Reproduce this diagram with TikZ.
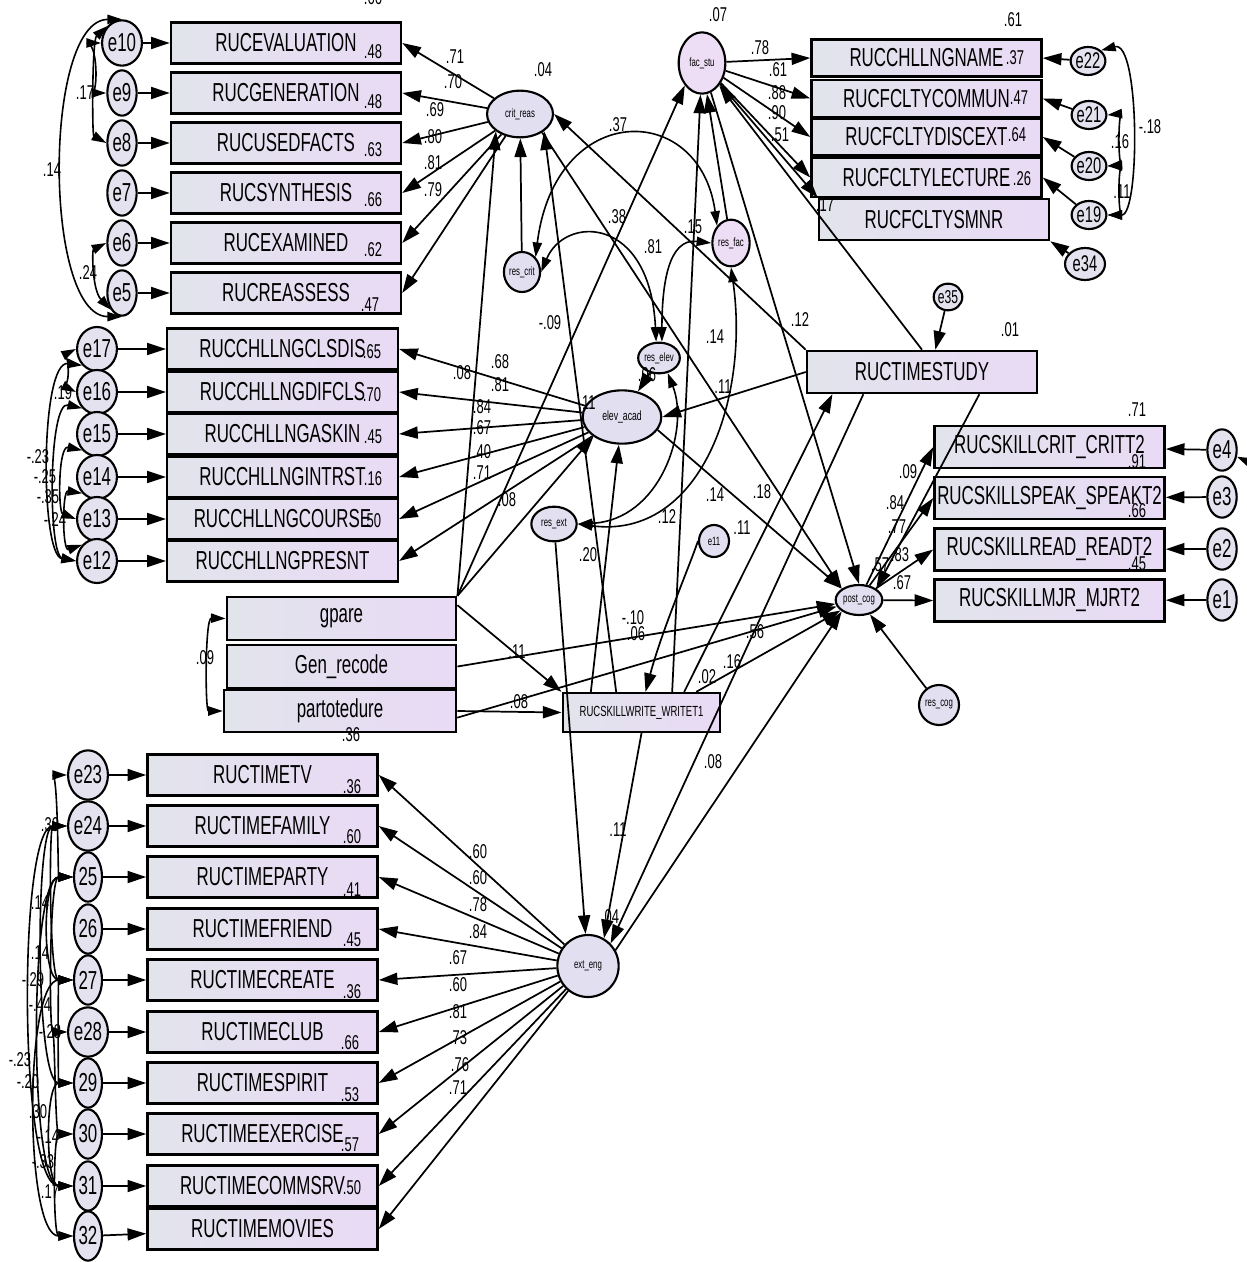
\documentclass[tikz,border=0pt]{standalone}
\usepackage{fontspec}
\setmainfont{Liberation Sans}[FakeStretch=0.65]
\usetikzlibrary{shapes.geometric,arrows.meta}
\definecolor{boxl}{RGB}{226,228,236}
\definecolor{boxr}{RGB}{233,218,245}
\definecolor{errfill}{RGB}{228,226,238}
\definecolor{latfill}{RGB}{226,224,240}
\definecolor{resfill}{RGB}{238,222,245}

\begin{document}
\begin{tikzpicture}[x=0.75pt,y=0.75pt,yscale=-1,
  obs/.style={draw,line width=1.9pt,left color=boxl,right color=boxr,minimum width=172.5pt,minimum height=30.75pt,inner sep=0pt,font=\fontsize{19.5}{19.5}\selectfont},
  err/.style={ellipse,draw,line width=1.6pt,fill=errfill,minimum width=22pt,minimum height=34pt,inner sep=0pt,font=\fontsize{19.5}{19.5}\selectfont},
  lat/.style={ellipse,draw,line width=1.6pt,fill=latfill,inner sep=0pt,font=\fontsize{9}{9}\selectfont},
  val/.style={inner sep=0pt,font=\fontsize{15}{15}\selectfont},
  pth/.style={-{Triangle[length=14pt,width=9pt]},line width=1.3pt},
  cov/.style={{Triangle[length=11pt,width=7pt]}-{Triangle[length=11pt,width=7pt]},line width=1.2pt}]
\useasboundingbox (0,0) rectangle (1246,1262);
\fill[white] (0,0) rectangle (1246,1262);

%Errors: crit_reas indicators
\node[err] (e10) at (122,43) {e10};
\node[err] (e9) at (122,93) {e9};
\node[err] (e8) at (122,143) {e8};
\node[err] (e7) at (122,193) {e7};
\node[err] (e6) at (122,243) {e6};
\node[err] (e5) at (122,293) {e5};
%Boxes: crit_reas indicators
\node[obs] (eval) at (286,43) {RUCEVALUATION};
\node[obs] (gener) at (286,93) {RUCGENERATION};
\node[obs] (usedf) at (286,143) {RUCUSEDFACTS};
\node[obs] (synth) at (286,193) {RUCSYNTHESIS};
\node[obs] (exam) at (286,243) {RUCEXAMINED};
\node[obs] (reass) at (286,293) {RUCREASSESS};

%Errors: elev_acad indicators
\node[err,minimum width=21pt,minimum height=33pt] (e17) at (97,349) {e17};
\node[err,minimum width=21pt,minimum height=33pt] (e16) at (97,392) {e16};
\node[err,minimum width=21pt,minimum height=33pt] (e15) at (97,434) {e15};
\node[err,minimum width=21pt,minimum height=33pt] (e14) at (97,477) {e14};
\node[err,minimum width=21pt,minimum height=33pt] (e13) at (97,519) {e13};
\node[err,minimum width=21pt,minimum height=33pt] (e12) at (97,561) {e12};
%Boxes: elev_acad indicators
\node[obs,minimum width=173pt] (clsdis) at (282.5,349) {RUCCHLLNGCLSDIS};
\node[obs,minimum width=173pt] (difcls) at (282.5,392) {RUCCHLLNGDIFCLS};
\node[obs,minimum width=173pt] (askin) at (282.5,434) {RUCCHLLNGASKIN};
\node[obs,minimum width=173pt] (intrst) at (282.5,477) {RUCCHLLNGINTRST};
\node[obs,minimum width=173pt] (course) at (282.5,519) {RUCCHLLNGCOURSE};
\node[obs,minimum width=173pt] (presnt) at (282.5,561) {RUCCHLLNGPRESNT};

%Exogenous boxes
\node[obs,minimum width=172pt,minimum height=32pt] (gpare) at (341.5,618.5) {gpare};
\node[obs,minimum width=172pt,minimum height=32pt] (genrec) at (341.5,666.5) {Gen\_recode};
\node[obs,minimum width=174pt,minimum height=31.5pt] (partot) at (340,711) {partotedure};
\node[obs,minimum width=118pt,minimum height=29pt,font=\fontsize{11}{11}\selectfont] (write) at (641.5,712.5) {RUCSKILLWRITE\_WRITET1};

%Errors: ext_eng indicators
\node[err,minimum width=21pt,minimum height=37pt] (e23) at (88,775) {e23};
\node[err,minimum width=21pt,minimum height=37pt] (e24) at (88,826) {e24};
\node[err,minimum width=21pt,minimum height=37pt] (e25) at (88,877) {25};
\node[err,minimum width=21pt,minimum height=37pt] (e26) at (88,929) {26};
\node[err,minimum width=21pt,minimum height=37pt] (e27) at (88,980) {27};
\node[err,minimum width=21pt,minimum height=37pt] (e28) at (88,1032) {e28};
\node[err,minimum width=21pt,minimum height=37pt] (e29) at (88,1083) {29};
\node[err,minimum width=21pt,minimum height=37pt] (e30) at (88,1134) {30};
\node[err,minimum width=21pt,minimum height=37pt] (e31) at (88,1186) {31};
\node[err,minimum width=21pt,minimum height=37pt] (e32) at (88,1236) {32};
%Boxes: ext_eng indicators
\node[obs] (tv) at (262.5,775) {RUCTIMETV};
\node[obs] (family) at (262.5,826) {RUCTIMEFAMILY};
\node[obs] (party) at (262.5,877) {RUCTIMEPARTY};
\node[obs] (friend) at (262.5,929) {RUCTIMEFRIEND};
\node[obs] (create) at (262.5,980) {RUCTIMECREATE};
\node[obs] (club) at (262.5,1032) {RUCTIMECLUB};
\node[obs] (spirit) at (262.5,1083) {RUCTIMESPIRIT};
\node[obs] (exer) at (262.5,1134) {RUCTIMEEXERCISE};
\node[obs] (comm) at (262.5,1186) {RUCTIMECOMMSRV};
\node[obs] (movies) at (262.5,1229) {RUCTIMEMOVIES};

%Boxes: fac_stu indicators
\node[obs,minimum height=28pt] (name) at (926.5,58) {RUCCHLLNGNAME};
\node[obs,minimum height=28pt] (commun) at (926.5,98.5) {RUCFCLTYCOMMUN};
\node[obs,minimum height=28pt] (discext) at (926.5,137) {RUCFCLTYDISCEXT};
\node[obs,minimum height=29pt] (lecture) at (926.5,177.5) {RUCFCLTYLECTURE};
\node[obs] (smnr) at (934,219.5) {RUCFCLTYSMNR};
%Errors: fac_stu indicators
\node[err,minimum width=19pt,minimum height=21pt,font=\fontsize{17}{17}\selectfont] (e22) at (1088,61) {e22};
\node[err,minimum width=19pt,minimum height=21pt,font=\fontsize{17}{17}\selectfont] (e21) at (1089,115) {e21};
\node[err,minimum width=19pt,minimum height=21pt,font=\fontsize{17}{17}\selectfont] (e20) at (1089,166) {e20};
\node[err,minimum width=19pt,minimum height=21pt,font=\fontsize{17}{17}\selectfont] (e19) at (1089,215) {e19};
\node[err,minimum width=30pt,minimum height=24pt,font=\fontsize{17}{17}\selectfont] (e34) at (1085,264) {e34};

%Time study
\node[obs,minimum height=31.5pt] (study) at (922,372) {RUCTIMESTUDY};
\node[err,minimum width=17pt,minimum height=20pt,font=\fontsize{14}{14}\selectfont] (e35) at (948,297) {e35};

%Boxes: post_cog indicators
\node[obs,minimum height=31.5pt] (critt) at (1049.5,447) {RUCSKILLCRIT\_CRITT2};
\node[obs,minimum height=31.5pt] (speak) at (1049.5,498) {RUCSKILLSPEAK\_SPEAKT2};
\node[obs,minimum height=31.5pt] (read) at (1049.5,549.5) {RUCSKILLREAD\_READT2};
\node[obs,minimum height=31.5pt] (mjr) at (1049.5,600.5) {RUCSKILLMJR\_MJRT2};
\node[err,minimum width=22pt,minimum height=31pt] (e4) at (1222,450) {e4};
\node[err,minimum width=22pt,minimum height=31pt] (e3) at (1222,497) {e3};
\node[err,minimum width=22pt,minimum height=31pt] (e2) at (1222,549) {e2};
\node[err,minimum width=22pt,minimum height=31pt] (e1) at (1222,600) {e1};
\coordinate (offe) at (1262,468);

%Latent variables and residuals
\node[lat,minimum width=49.5pt,minimum height=35pt] (crit) at (520,114) {crit\_reas};
\node[lat,minimum width=35pt,minimum height=46pt,fill=resfill] (fac) at (702,63) {fac\_stu};
\node[lat,minimum width=59pt,minimum height=40pt,font=\fontsize{10}{10}\selectfont] (elev) at (622,417) {elev\_acad};
\node[lat,minimum width=46pt,minimum height=46.5pt] (ext) at (588,966) {ext\_eng};
\node[lat,minimum width=35pt,minimum height=22.5pt] (post) at (859,600) {post\_cog};
\node[lat,minimum width=25.5pt,minimum height=30pt] (rcrit) at (522,272) {res\_crit};
\node[lat,minimum width=28pt,minimum height=35pt,fill=resfill] (rfac) at (731,243) {res\_fac};
\node[lat,minimum width=31pt,minimum height=23pt] (relev) at (659,358) {res\_elev};
\node[lat,minimum width=34pt,minimum height=26pt] (rext) at (554,524) {res\_ext};
\node[lat,minimum width=22.5pt,minimum height=24pt] (e11) at (714,541) {e11};
\node[lat,minimum width=30pt,minimum height=30pt] (rcog) at (939,705) {res\_cog};

%Loadings
\draw[pth] (crit) -- (eval.east);
\draw[pth] (crit) -- (gener.east);
\draw[pth] (crit) -- (usedf.east);
\draw[pth] (crit) -- (synth.east);
\draw[pth] (crit) -- (exam.east);
\draw[pth] (crit) -- (reass.east);
\draw[pth] (elev) -- (clsdis.east);
\draw[pth] (elev) -- (difcls.east);
\draw[pth] (elev) -- (askin.east);
\draw[pth] (elev) -- (intrst.east);
\draw[pth] (elev) -- (course.east);
\draw[pth] (elev) -- (presnt.east);
\draw[pth] (ext) -- (tv.east);
\draw[pth] (ext) -- (family.east);
\draw[pth] (ext) -- (party.east);
\draw[pth] (ext) -- (friend.east);
\draw[pth] (ext) -- (create.east);
\draw[pth] (ext) -- (club.east);
\draw[pth] (ext) -- (spirit.east);
\draw[pth] (ext) -- (exer.east);
\draw[pth] (ext) -- (comm.east);
\draw[pth] (ext) -- (movies.east);
\draw[pth] (fac) -- (name.west);
\draw[pth] (fac) -- (commun.west);
\draw[pth] (fac) -- (discext.west);
\draw[pth] (fac) -- (lecture.west);
\draw[pth] (fac) -- (smnr.north west);
\draw[pth] (post) -- (critt.west);
\draw[pth] (post) -- (speak.west);
\draw[pth] (post) -- (read.west);
\draw[pth] (post) -- (mjr.west);

%Error arrows
\draw[pth] (e10) -- (eval);
\draw[pth] (e9) -- (gener);
\draw[pth] (e8) -- (usedf);
\draw[pth] (e7) -- (synth);
\draw[pth] (e6) -- (exam);
\draw[pth] (e5) -- (reass);
\draw[pth] (e17) -- (clsdis);
\draw[pth] (e16) -- (difcls);
\draw[pth] (e15) -- (askin);
\draw[pth] (e14) -- (intrst);
\draw[pth] (e13) -- (course);
\draw[pth] (e12) -- (presnt);
\draw[pth] (e23) -- (tv);
\draw[pth] (e24) -- (family);
\draw[pth] (e25) -- (party);
\draw[pth] (e26) -- (friend);
\draw[pth] (e27) -- (create);
\draw[pth] (e28) -- (club);
\draw[pth] (e29) -- (spirit);
\draw[pth] (e30) -- (exer);
\draw[pth] (e31) -- (comm);
\draw[pth] (e32) -- (movies);
\draw[pth] (e22) -- (name.east);
\draw[pth] (e21) -- (commun.east);
\draw[pth] (e20) -- (discext.east);
\draw[pth] (e19) -- (lecture.east);
\draw[pth] (e34) -- (smnr.south east);
\draw[pth] (e4) -- (critt);
\draw[pth] (e3) -- (speak);
\draw[pth] (e2) -- (read);
\draw[pth] (e1) -- (mjr);
\draw[pth] (offe) -- (e4);
\draw[pth] (e35) -- ([xshift=10pt]study.north);

%Residuals
\draw[pth] (rcrit) -- (crit);
\draw[pth] (rfac) -- (fac);
\draw[pth] (relev) -- (elev);
\draw[pth] (rext) -- (ext);
\draw[pth] (rcog) -- (post);
\draw[pth] (e11.west) .. controls (690,565) and (662,630) .. ([xshift=3pt]write.north);

%Structural paths
\draw[pth] (gpare.north east) -- (crit.south west);
\draw[pth] (gpare.north east) -- (fac.south west);
\draw[pth] (gpare.north east) -- (elev.south west);
\draw[pth] ([yshift=-10pt]gpare.east) -- (write.north west);
\draw[pth] (genrec.east) -- (post);
\draw[pth] ([yshift=5pt]partot.east) -- (post);
\draw[pth] (partot.east) -- (write.west);
\draw[pth] ([xshift=-38pt]write.north) -- (elev);
\draw[pth] ([xshift=-19pt]write.north) -- (crit.south east);
\draw[pth] ([xshift=23pt]write.north) -- (fac);
\draw[pth] ([xshift=32pt]write.north) -- ([xshift=20pt]study.south west);
\draw[pth] ([xshift=41pt]write.north) -- (post);
\draw[pth] (write.south) -- (ext.60);
\draw[pth] ([xshift=-44pt]study.south) -- (ext.45);
\draw[pth] (ext.30) -- (post.south west);
\draw[pth] ([xshift=43pt]study.south) -- (post.north east);
\draw[pth] (elev.-20) -- (post.north west);
\draw[pth] (crit.-40) -- (post.north west);
\draw[pth] (fac) -- (post.north);
\draw[pth] (study.west) -- (elev.east);
\draw[pth] (study.north west) -- (crit.east);
\draw[pth] (study.north) -- (fac);

%Residual covariances
\draw[cov] (rcrit.north east) .. controls (555,100) and (700,100) .. (rfac.north west);
\draw[cov] (rcrit.east) .. controls (565,215) and (650,215) .. (relev.100);
\draw[cov] (rfac.west) .. controls (668,238) and (662,285) .. (relev.80);
\draw[cov] (rfac.south) .. controls (750,400) and (700,540) .. (rext.east);
\draw[cov] (relev.-60) .. controls (690,430) and (660,520) .. (rext.east);

%Error covariances, top left
\draw[cov] (e10.west) .. controls (98,43) and (98,93) .. (e9.west);
\draw[cov] (e10.north west) .. controls (92,40) and (92,135) .. (e8.west);
\draw[cov] (e10.north) .. controls (43,20) and (43,316) .. (e5.south);
\draw[cov] (e6.west) .. controls (92,250) and (92,290) .. (e5.south west);
%Error covariances, middle
\draw[cov] (e17.west) .. controls (70,352) and (70,389) .. (e16.west);
\draw[cov] (e17.south west) .. controls (40,360) and (40,555) .. (e12.west);
\draw[cov] (e16.south west) .. controls (48,400) and (48,555) .. (e12.west);
\draw[cov] (e15.south west) .. controls (58,445) and (58,512) .. (e13.west);
\draw[cov] (e14.south west) .. controls (62,490) and (62,552) .. (e12.north west);
%Error covariances, bottom
\draw[cov] (e23.west) .. controls (58,775) and (58,877) .. (e25.west);
\draw[cov] (e24.west) .. controls (49,826) and (49,980) .. (e27.west);
\draw[cov] (e25.west) .. controls (42,877) and (42,980) .. (e27.west);
\draw[cov] (e24.west) .. controls (35,826) and (35,1083) .. (e29.west);
\draw[cov] (e25.west) .. controls (49,877) and (49,1032) .. (e28.west);
\draw[cov] (e27.west) .. controls (58,980) and (58,1083) .. (e29.west);
\draw[cov] (e24.west) .. controls (18,826) and (18,1186) .. (e31.west);
\draw[cov] (e25.west) .. controls (29,877) and (29,1186) .. (e31.west);
\draw[cov] (e29.west) .. controls (45,1083) and (45,1186) .. (e31.west);
\draw[cov] (e28.west) .. controls (55,1032) and (55,1134) .. (e30.west);
\draw[cov] (e27.west) .. controls (24,980) and (24,1236) .. (e32.west);
\draw[cov] (e30.west) .. controls (53,1134) and (53,1236) .. (e32.west);
%Error covariances, right
\draw[cov] (e22.north east) .. controls (1140,40) and (1140,215) .. (e19.east);
\draw[cov] (e21.east) .. controls (1118,114) and (1118,165) .. (e20.east);
\draw[cov] (e20.east) .. controls (1118,166) and (1118,215) .. (e19.east);
\draw[cov] (gpare.west) .. controls (205,618) and (205,711) .. (partot.west);

% Text Nodes: top left
\node[val] (t1) at (373,-2) {.66};
\node[val] (t2) at (373,52) {.48};
\node[val] (t3) at (373,102) {.48};
\node[val] (t4) at (373,150) {.63};
\node[val] (t5) at (373,200) {.66};
\node[val] (t6) at (373,250) {.62};
\node[val] (t7) at (370,305) {.47};
\node[val] (t8) at (455,57) {.71};
\node[val] (t9) at (453,82) {.70};
\node[val] (t10) at (435,110) {.69};
\node[val] (t11) at (433,137) {.80};
\node[val] (t12) at (433,163) {.81};
\node[val] (t13) at (433,190) {.79};
\node[val] (t14) at (85,93) {.17};
\node[val] (t15) at (52,170) {.14};
\node[val] (t16) at (88,273) {.24};
% Text Nodes: top centre
\node[val] (t17) at (543,70) {.04};
\node[val] (t18) at (718,15) {.07};
\node[val] (t19) at (760,48) {.78};
\node[val] (t20) at (778,70) {.61};
\node[val] (t21) at (777,93) {.88};
\node[val] (t22) at (777,113) {.90};
\node[val] (t23) at (780,135) {.51};
\node[val] (t24) at (617,217) {.38};
\node[val] (t25) at (693,227) {.15};
\node[val] (t26) at (653,247) {.81};
\node[val] (t27) at (618,125) {.37};
\node[val] (t28) at (550,323) {-.09};
\node[val] (t29) at (800,320) {.12};
\node[val] (t30) at (825,205) {.17};
% Text Nodes: top right
\node[val] (t31) at (1013,20) {.61};
\node[val] (t32) at (1015,58) {.37};
\node[val] (t33) at (1019,98) {.47};
\node[val] (t34) at (1017,135) {.64};
\node[val] (t35) at (1022,179) {.26};
\node[val] (t36) at (1150,127) {-.18};
\node[val] (t37) at (1120,142) {.16};
\node[val] (t38) at (1122,192) {.11};
% Text Nodes: middle left
\node[val] (t39) at (63,393) {.19};
\node[val] (t40) at (38,457) {-.23};
\node[val] (t41) at (45,477) {-.25};
\node[val] (t42) at (48,497) {-.35};
\node[val] (t43) at (55,520) {-.24};
\node[val] (t44) at (372,352) {.65};
\node[val] (t45) at (372,395) {.70};
\node[val] (t46) at (373,437) {.45};
\node[val] (t47) at (373,479) {.16};
\node[val] (t48) at (372,521) {.50};
% Text Nodes: middle
\node[val] (t49) at (500,362) {.68};
\node[val] (t50) at (500,385) {.81};
\node[val] (t51) at (482,407) {.84};
\node[val] (t52) at (482,428) {.67};
\node[val] (t53) at (482,452) {.40};
\node[val] (t54) at (482,473) {.71};
\node[val] (t55) at (462,373) {.08};
\node[val] (t56) at (507,500) {.08};
\node[val] (t57) at (587,403) {.11};
\node[val] (t58) at (647,375) {.06};
\node[val] (t59) at (715,337) {.14};
\node[val] (t60) at (723,387) {.11};
\node[val] (t61) at (715,495) {.14};
\node[val] (t62) at (762,492) {.18};
\node[val] (t63) at (667,517) {.12};
\node[val] (t64) at (742,528) {.11};
\node[val] (t65) at (588,555) {.20};
\node[val] (t66) at (633,618) {-.10};
\node[val] (t67) at (636,634) {.06};
\node[val] (t68) at (755,632) {.56};
\node[val] (t69) at (732,662) {.16};
\node[val] (t70) at (707,677) {.02};
\node[val] (t71) at (205,658) {.09};
\node[val] (t72) at (517,652) {.11};
\node[val] (t73) at (519,702) {.08};
\node[val] (t74) at (351,735) {.36};
% Text Nodes: right
\node[val] (t75) at (1010,330) {.01};
\node[val] (t76) at (908,472) {.09};
\node[val] (t77) at (895,503) {.84};
\node[val] (t78) at (897,527) {.77};
\node[val] (t79) at (900,555) {.83};
\node[val] (t80) at (880,565) {.57};
\node[val] (t81) at (902,583) {.67};
\node[val] (t82) at (1137,410) {.71};
\node[val] (t83) at (1137,462) {.91};
\node[val] (t84) at (1137,511) {.66};
\node[val] (t85) at (1137,564) {.45};
% Text Nodes: bottom
\node[val] (t86) at (713,762) {.08};
\node[val] (t87) at (618,830) {.11};
\node[val] (t88) at (610,917) {.04};
\node[val] (t89) at (478,852) {.60};
\node[val] (t90) at (478,878) {.60};
\node[val] (t91) at (478,905) {.78};
\node[val] (t92) at (478,932) {.84};
\node[val] (t93) at (458,958) {.67};
\node[val] (t94) at (458,985) {.60};
\node[val] (t95) at (458,1012) {.81};
\node[val] (t96) at (458,1038) {.73};
\node[val] (t97) at (460,1065) {.76};
\node[val] (t98) at (458,1088) {.71};
\node[val] (t99) at (352,787) {.36};
\node[val] (t100) at (352,837) {.60};
\node[val] (t101) at (352,890) {.41};
\node[val] (t102) at (352,940) {.45};
\node[val] (t103) at (352,992) {.36};
\node[val] (t104) at (350,1043) {.66};
\node[val] (t105) at (350,1095) {.53};
\node[val] (t106) at (350,1145) {.57};
\node[val] (t107) at (352,1188) {.50};
\node[val] (t108) at (50,825) {.30};
\node[val] (t109) at (40,903) {.14};
\node[val] (t110) at (40,953) {.14};
\node[val] (t111) at (33,980) {-.29};
\node[val] (t112) at (40,1005) {-.44};
\node[val] (t113) at (50,1032) {-.28};
\node[val] (t114) at (20,1060) {-.23};
\node[val] (t115) at (28,1082) {-.20};
\node[val] (t116) at (38,1112) {.30};
\node[val] (t117) at (48,1137) {-.14};
\node[val] (t118) at (43,1162) {-.33};
\node[val] (t119) at (50,1192) {.17};

\end{tikzpicture}
\end{document}
